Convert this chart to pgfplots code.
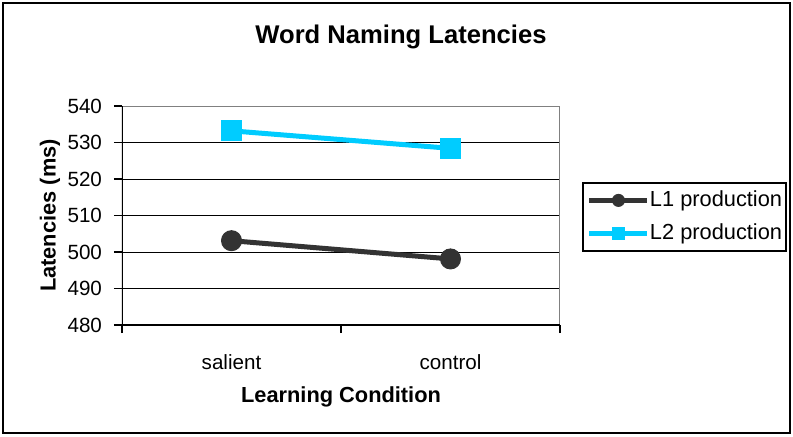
\documentclass[border=0pt]{standalone}
\usepackage{pgfplots}
\pgfplotsset{compat=1.18}
\usepackage{fontspec}
\setmainfont{Liberation Sans}
\definecolor{lone}{HTML}{333333}
\definecolor{ltwo}{HTML}{00CCFF}
\begin{document}
\begin{tikzpicture}
\path[fill=white] (0,0) rectangle (396.5pt,218pt);
\draw[line width=1pt] (1.5pt,1.5pt) rectangle (395pt,216.5pt);
\begin{axis}[
  at={(61pt,55.5pt)}, anchor=south west,
  scale only axis, width=219pt, height=109.5pt,
  xmin=-0.5, xmax=1.5, ymin=480, ymax=540,
  ytick={480,490,...,540},
  xtick={-0.5,0.5,1.5}, xticklabels={},
  extra x ticks={0,1}, extra x tick labels={salient,control},
  extra x tick style={major tick length=0pt, xmajorgrids=false,
     tick label style={yshift=-11pt}},
  tick align=outside, major tick length=4pt,
  tick style={black, line width=0.8pt},
  xtick pos=bottom, ytick pos=left,
  ymajorgrids, grid style={black, line width=0.5pt},
  axis line style={draw=none},
  /pgf/number format/assume math mode=true,
  tick label style={font=\fontsize{10.3pt}{12pt}\selectfont},
  yticklabel style={xshift=-2.5pt},
  every axis title shift=0pt,
  title={Word Naming Latencies},
  title style={font=\fontsize{12.8pt}{15pt}\selectfont\bfseries, at={(axis description cs:0.637,1.315)}, anchor=center},
  xlabel={Learning Condition},
  xlabel style={font=\fontsize{10.9pt}{13pt}\selectfont\bfseries, at={(axis description cs:0.5,-0.33)}, anchor=center},
  ylabel={Latencies (ms)},
  ylabel style={font=\fontsize{10.9pt}{13pt}\selectfont\bfseries, at={(axis description cs:-0.1644,0.5)}, anchor=center, rotate=0},
  legend style={at={(1.0502,0.653)}, anchor=north west, draw=black, line width=1pt,
     font=\fontsize{10.9pt}{13pt}\selectfont, inner xsep=2pt, inner ysep=2pt,
     row sep=3pt, nodes={inner xsep=0pt}},
  legend cell align=left,
  legend image code/.code={\draw[#1, mark=none] (0pt,0pt) -- (29pt,0pt);
     \draw[#1, mark repeat=2, mark phase=2, mark size=3pt] plot coordinates {(0pt,0pt) (14.5pt,0pt) (29pt,0pt)};},
]
\addplot[color=lone, line width=2.5pt, mark=*, mark size=5pt, mark options={fill=lone, draw=lone, line width=0.5pt}]
  coordinates {(0,503.1) (1,498.1)};
\addlegendentry{L1 production}
\addplot[color=ltwo, line width=2.5pt, mark=square*, mark size=5pt, mark options={fill=ltwo, draw=ltwo, double=white, double distance=0.4pt, line width=0.4pt}]
  coordinates {(0,533.2) (1,528.4)};
\addlegendentry{L2 production}
\draw[gray, line width=1pt] (rel axis cs:0,1) -- (rel axis cs:1,1) -- (rel axis cs:1,0);
\draw[black, line width=1pt] (rel axis cs:0,1) -- (rel axis cs:0,0) -- (rel axis cs:1,0);
\end{axis}
\end{tikzpicture}
\end{document}
